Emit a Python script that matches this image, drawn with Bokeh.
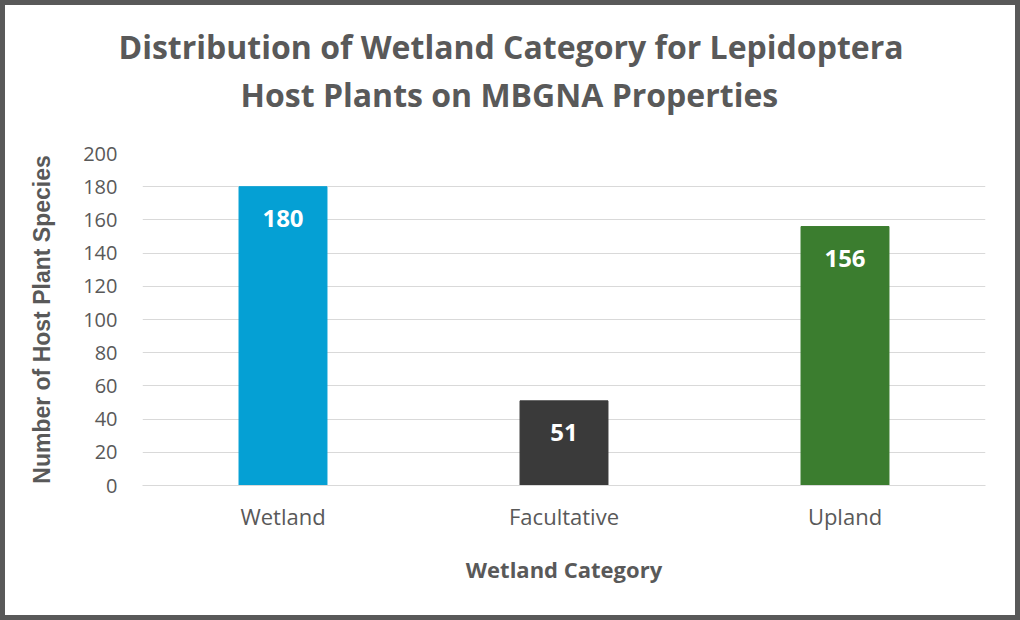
from bokeh.plotting import figure
from bokeh.models import ColumnDataSource, FactorRange, Range1d, SingleIntervalTicker, Title
from bokeh.core.properties import value
from bokeh.embed import file_html
from bokeh.resources import INLINE

categories = ["Wetland", "Facultative", "Upland"]
counts = [180, 51, 156]
bar_colors = ["#05A0D4", "#3A3A3A", "#3B7D2F"]
title_lines = ["Distribution of Wetland Category for Lepidoptera", "Host Plants on MBGNA Properties"]

src = ColumnDataSource(dict(cat=categories, n=counts, color=bar_colors, lbl=[str(v) for v in counts]))

p = figure(width=1020, height=620, x_range=FactorRange(*categories, range_padding=0),
           y_range=Range1d(0, 200), output_backend="svg", toolbar_location=None,
           min_border_left=137, min_border_right=40, min_border_top=148, min_border_bottom=140)
p.styles = {"border": "5px solid #595959"}
p.outline_line_color = None
p.background_fill_color = "white"
p.border_fill_color = "white"

p.vbar(x="cat", top="n", width=0.313, color="color", source=src)
p.text(x="cat", y="n", text="lbl", source=src, y_offset=32, text_align="center",
       text_baseline="middle", text_color="white", text_font=value("Open Sans"),
       text_font_style="bold", text_font_size="24px")

p.xgrid.grid_line_color = None
p.ygrid.grid_line_color = "#D9D9D9"
p.ygrid.grid_line_width = 1
p.yaxis.ticker = SingleIntervalTicker(interval=20)

p.yaxis.axis_line_color = None
p.yaxis.major_tick_line_color = None
p.yaxis.minor_tick_line_color = None
p.yaxis.major_tick_out = 0
p.yaxis.major_label_standoff = 21
p.yaxis.major_label_text_font = "Open Sans"
p.yaxis.major_label_text_font_size = "20px"
p.yaxis.major_label_text_color = "#595959"
p.yaxis.axis_label = "Number of Host Plant Species"
p.yaxis.axis_label_text_font = "Liberation Sans"
p.yaxis.axis_label_text_font_style = "bold"
p.yaxis.axis_label_text_font_size = "23px"
p.yaxis.axis_label_text_color = "#595959"
p.yaxis.axis_label_standoff = 25

p.xaxis.axis_line_color = "#D9D9D9"
p.xaxis.major_tick_line_color = None
p.xaxis.minor_tick_line_color = None
p.xaxis.major_tick_out = 0
p.xaxis.major_label_standoff = 15
p.xaxis.major_label_text_font = "Open Sans"
p.xaxis.major_label_text_font_size = "22px"
p.xaxis.major_label_text_color = "#595959"
p.xaxis.axis_label = "Wetland Category"
p.xaxis.axis_label_text_font = "Open Sans"
p.xaxis.axis_label_text_font_style = "bold"
p.xaxis.axis_label_text_font_size = "22px"
p.xaxis.axis_label_text_color = "#595959"
p.xaxis.axis_label_standoff = 20

# inner line first (closest to plot), outer line last
for t, off, sto in [(title_lines[1], 98, 75), (title_lines[0], -24, -68)]:
    p.add_layout(Title(text=t, align="left", offset=off, standoff=sto,
                       text_font="Open Sans", text_font_style="bold",
                       text_font_size="32px", text_color="#595959"), "above")

open("out.html", "w").write(file_html(p, INLINE))
